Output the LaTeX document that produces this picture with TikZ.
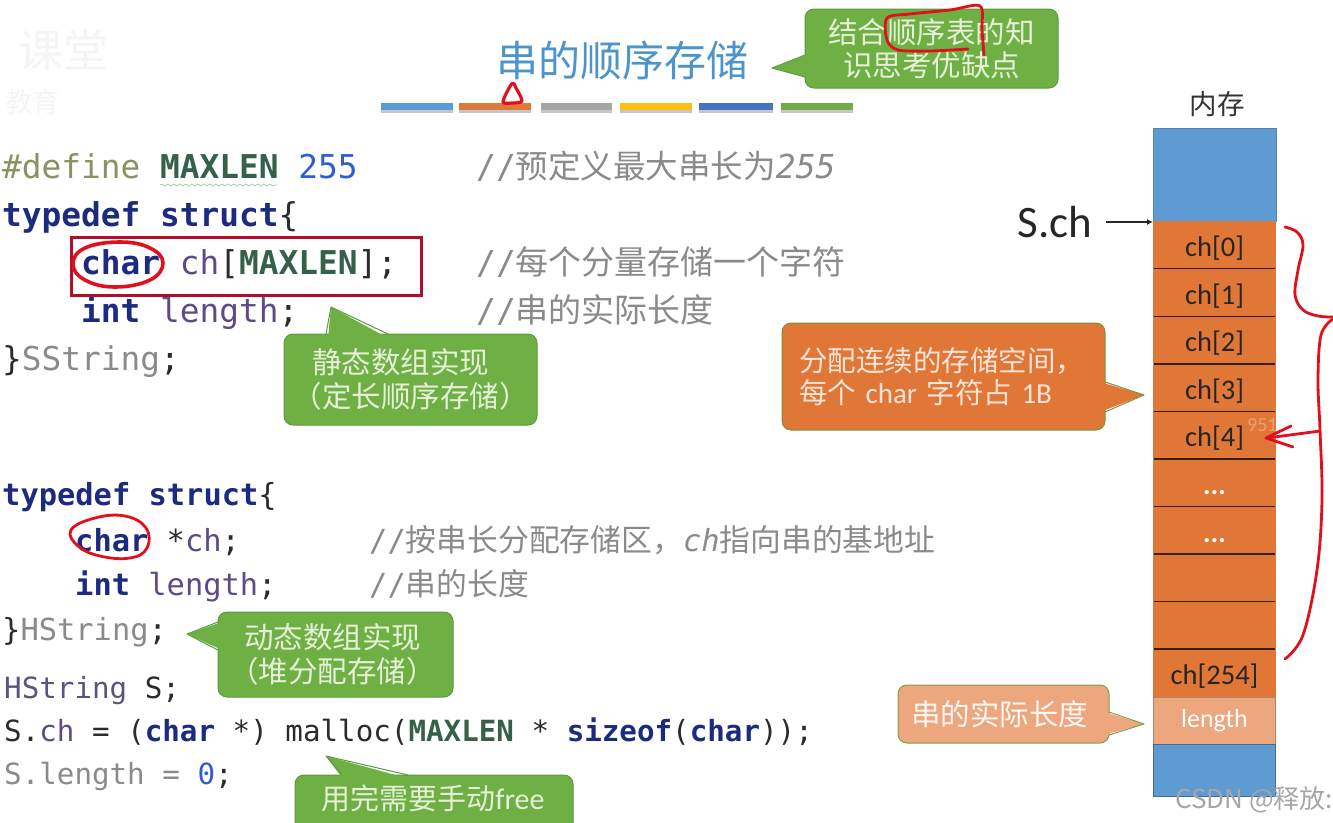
\documentclass[tikz,border=0pt]{standalone}
\usepackage{fontspec}
\setmainfont{Carlito}
\setmonofont{DejaVu Sans Mono}
\newfontfamily\cjk{Noto Sans CJK SC}
\usetikzlibrary{arrows.meta,decorations.pathmorphing}
\definecolor{keyblue}{HTML}{1C2A80}
\definecolor{macgreen}{HTML}{35604A}
\definecolor{numblue}{HTML}{2F5BD6}
\definecolor{fieldpurple}{HTML}{5E4A86}
\definecolor{fadegray}{HTML}{8A8A8A}
\definecolor{dirolive}{HTML}{8B9160}
\definecolor{codeblack}{HTML}{2B2B2B}
\definecolor{typeslate}{HTML}{55557F}
\definecolor{memblue}{HTML}{5F9BD3}
\definecolor{memorange}{HTML}{E07737}
\definecolor{memlight}{HTML}{EDA77F}
\definecolor{callgreen}{HTML}{6FB044}
\definecolor{callborder}{HTML}{5C9A3E}
\definecolor{calltext}{HTML}{E6F0D8}
\definecolor{penred}{HTML}{E0101E}
\definecolor{boxred}{HTML}{AD0F2D}
\definecolor{titleblue}{HTML}{4E94CC}
\definecolor{barblue}{HTML}{5B9BD5}
\definecolor{barorange}{HTML}{DD7A3C}
\definecolor{bargray}{HTML}{A5A5A5}
\definecolor{baryellow}{HTML}{FBBF16}
\definecolor{bardark}{HTML}{4472C4}
\definecolor{bargreen}{HTML}{70AD47}
\newcommand{\ckey}[1]{{\color{keyblue}\bfseries #1}}
\newcommand{\cmac}[1]{{\color{macgreen}\bfseries #1}}
\newcommand{\cnum}[1]{{\color{numblue}#1}}
\newcommand{\cfld}[1]{{\color{fieldpurple}#1}}
\newcommand{\cfad}[1]{{\color{fadegray}#1}}
\newcommand{\codesize}[1]{\fontsize{#1}{#1}\selectfont\ttfamily}
\newcommand{\celldots}{\textcolor{white}{\bfseries ...}}
\tikzset{
  codeline/.style={anchor=base west, inner sep=0pt, text=codeblack},
  noteline/.style={anchor=base west, inner sep=0pt, text=fadegray},
  callbox/.style={draw=callborder, line width=1pt, fill=callgreen, text=calltext, rounded corners=9pt,
    align=center, inner sep=0pt},
  calltail/.style={fill=callgreen},
  calledge/.style={draw=callborder, line width=1pt, line join=round},
  cellbox/.style={fill=memorange, minimum width=123pt, minimum height=47.55pt, inner sep=0pt,
    font=\fontsize{28.5}{28.5}\selectfont, text=black!85},
  cellline/.style={draw=black!75!memorange, line width=1.4pt, shorten >=1.5pt, shorten <=1.5pt},
  pen/.style={draw=penred, line width=2.8pt, line cap=round, line join=round}
}

\begin{document}
\begin{tikzpicture}[x=1pt, y=-1pt, >={Latex[length=6pt,width=6pt]}]
  \useasboundingbox (0,0) rectangle (1333,822);
  % faint marks in the corner
  \node[anchor=west, text=black!4, inner sep=0pt, font=\cjk\fontsize{45}{45}\selectfont] (logotop) at (18,50) {课堂};
  \node[anchor=west, text=black!4, inner sep=0pt, font=\cjk\fontsize{27}{27}\selectfont] (logosub) at (5,102) {教育};
  % title and its bars
  \node[text=titleblue, font=\cjk\fontsize{42}{42}\selectfont, inner sep=0pt] (title) at (622,61) {串的顺序存储};
  \foreach \xa/\xb/\col in {381/453/barblue, 459/531/barorange, 541/612/bargray, 620/692/baryellow, 699/773/bardark, 781/853/bargreen}{
    \fill[black!22] (\xa,106) rectangle (\xb,113);
    \fill[\col] (\xa,103) rectangle (\xb,110);
  }
  \draw[pen, line width=3.2pt] plot[smooth cycle, tension=0.5] coordinates {(503,102)(509,88)(513,83)(516,88)(522,101)(512,103)};
  % first struct
  \node[codeline, font=\codesize{32.8}] (defline) at (2,178) {{\color{dirolive}\#define} \cmac{MAXLEN} \cnum{255}};
  \node[codeline, font=\codesize{32.8}] (tdefa) at (2,226) {\ckey{typedef struct}\{};
  \node[codeline, font=\codesize{32.8}] (chara) at (81,274) {\ckey{char} \cfld{ch}[\cmac{MAXLEN}];};
  \node[codeline, font=\codesize{32.8}] (inta) at (81,322) {\ckey{int} \cfld{length};};
  \node[codeline, font=\codesize{32.8}] (enda) at (2,370) {\}\cfad{SString};};
  \node[noteline, font=\codesize{33}] (notea) at (476,178) {//{\cjk\fontsize{32.5}{33}\selectfont 预定义最大串长为}{\itshape 255}};
  \node[noteline, font=\codesize{33}] (noteb) at (476,274) {//{\cjk\fontsize{33}{33}\selectfont 每个分量存储一个字符}};
  \node[noteline, font=\codesize{33}] (notec) at (476,322) {//{\cjk\fontsize{33}{33}\selectfont 串的实际长度}};
  \draw[green!50!black!40, line width=.8pt, decorate, decoration={snake, amplitude=1pt, segment length=6pt}] (160,185) -- (277,185);
  \draw[boxred, line width=3pt] (71,237) rectangle (421,295);
  \draw[pen, line width=3.6pt] plot[smooth cycle, tension=0.7] coordinates {(120,242)(150,248)(163,263)(150,280)(115,287)(85,280)(73,264)(85,248)};
  % second struct
  \node[codeline, font=\codesize{30.4}] (tdefb) at (2,505) {\ckey{typedef struct}\{};
  \node[codeline, font=\codesize{30.4}] (charb) at (75,551) {\ckey{char} *\cfld{ch};};
  \node[codeline, font=\codesize{30.4}] (intb) at (75,595) {\ckey{int} \cfld{length};};
  \node[codeline, font=\codesize{30.4}] (endb) at (2,640) {\}\cfad{HString};};
  \node[noteline, font=\codesize{30.4}] (noted) at (369,551) {//{\cjk\fontsize{30.8}{30}\selectfont 按串长分配存储区，}{\itshape ch}{\cjk\fontsize{30.8}{30}\selectfont 指向串的基地址}};
  \node[noteline, font=\codesize{30.4}] (notee) at (369,595) {//{\cjk\fontsize{30.8}{30}\selectfont 串的长度}};
  \draw[pen] plot[smooth cycle, tension=0.7] coordinates {(95,518)(125,516)(146,528)(147,548)(130,558)(100,556)(78,546)(71,530)};
  % use of the struct
  \node[codeline, font=\codesize{29.2}] (useb) at (4,698) {{\color{typeslate}HString} S;};
  \node[codeline, font=\codesize{29.2}] (usec) at (4,741) {S.\cfld{ch} = (\ckey{char} *) malloc(\cmac{MAXLEN} * \ckey{sizeof}(\ckey{char}));};
  \node[codeline, font=\codesize{29.2}] (used) at (4,784) {\cfad{S.length = }\cnum{0};};
  % memory column
  \node[font=\cjk\fontsize{27.5}{27.5}\selectfont, text=black!80, inner sep=0pt] (memlabel) at (1217,104) {内存};
  \node[fill=memblue, draw=memblue!85!black, line width=.6pt, minimum width=123pt, minimum height=93pt, inner sep=0pt] (memtop) at (1214.5,174.5) {};
  \foreach \i/\lab in {0/ch[0], 1/ch[1], 2/ch[2], 3/ch[3], 4/ch[4], 5/\celldots, 6/\celldots, 7/, 8/, 9/ch[254]}{
    \node[cellbox, text height=28pt, text depth=4pt] (cell\i) at (1214.5,{221+47.55*(\i+.5)}) {\lab};
  }
  \foreach \i in {0,...,8}{
    \draw[cellline] (cell\i.south west) -- (cell\i.south east);
  }
  \node[fill=memlight, draw=memorange!70!memblue, line width=.8pt, minimum width=122pt, minimum height=47pt, inner sep=0pt, text=white, font=\fontsize{26}{26}\selectfont] (memlen) at (1214.5,720.5) {length};
  \node[fill=memblue, draw=memblue!70!black, line width=1pt, minimum width=122pt, minimum height=52pt, inner sep=0pt] (membot) at (1214.5,770) {};
  \node[font=\fontsize{45}{45}\selectfont, text=black!85, inner xsep=13pt, inner ysep=0pt] (sch) at (1055,222) {S.ch};
  \coordinate (schtip) at (1153,222);
  \draw[->, line width=1.6pt, black!85] (sch.east) -- (schtip);
  % green note at the title
  \node[callbox, minimum width=253pt, minimum height=79pt, font=\cjk\fontsize{29.5}{33}\selectfont] (notetitle) at (931.5,48.5) {结合顺序表的知\\识思考优缺点};
  \fill[calltail] (809,54) -- (772,68) -- (809,78) -- cycle;
  \draw[calledge] (805,55) -- (772,68) -- (805,77);
  \draw[pen] plot[smooth, tension=0.5] coordinates {(968,49)(930,51)(898,50)(887,40)(887,18)(910,14)(950,10)(980,6)(982,30)(984,55)};
  % green note at the first struct
  \node[callbox, minimum width=253pt, minimum height=91pt, font=\cjk\fontsize{29.5}{34}\selectfont] (notestat) at (410.5,379.5) {静态数组实现\hspace*{20pt}\\（定长顺序存储）};
  \fill[calltail] (328,338) -- (331,307) -- (388,338) -- cycle;
  \draw[calledge] (326,334) -- (331,307) -- (388,334);
  % orange note
  \node[callbox, fill=memorange, draw=callborder!75!memorange, minimum width=323pt, minimum height=107pt, align=left, font=\cjk\fontsize{28.5}{31.5}\selectfont, text=memlight!30!white, text width=289pt] (noteorg) at (943.5,376.5) {分配连续的存储空间，\\每个 {\fontspec{Carlito}\fontsize{29}{31.5}\selectfont char} 字符占 {\fontspec{Carlito}\fontsize{29}{31.5}\selectfont 1B}};
  \fill[memorange] (1100,382) -- (1144,395) -- (1100,412) -- cycle;
  \draw[calledge, draw=callborder!75!memorange] (1105,382) -- (1144,395) -- (1105,412);
  % light orange note
  \node[callbox, fill=memlight, draw=callborder!75!memlight, minimum width=211pt, minimum height=58pt, font=\cjk\fontsize{29.5}{34}\selectfont, text=white!90!memlight] (notelen) at (1003.5,714) {串的实际长度\hspace*{8pt}};
  \fill[memlight] (1104,712) -- (1144,724) -- (1104,735) -- cycle;
  \draw[calledge, draw=callborder!75!memlight] (1109,712) -- (1144,724) -- (1109,735);
  % green note at the second struct
  \node[callbox, minimum width=235pt, minimum height=85pt, font=\cjk\fontsize{29.5}{34.5}\selectfont] (notedyn) at (335.5,654.5) {动态数组实现\hspace*{6pt}\\（堆分配存储）\hspace*{6pt}};
  \fill[calltail] (222,622) -- (187,634) -- (222,650) -- cycle;
  \draw[calledge] (218,622) -- (187,634) -- (218,650);
  % green note at the bottom
  \node[callbox, minimum width=278pt, minimum height=60pt] (notefree) at (434,805) {};
  \node[text=calltext, inner sep=0pt, font=\cjk\fontsize{29}{34}\selectfont] (notefreetxt) at (433,798) {用完需要手动{\fontspec{Carlito}\fontsize{30}{34}\selectfont free}};
  \fill[calltail] (343,779) -- (326,756) -- (410,779) -- cycle;
  \draw[calledge] (342,775) -- (326,756) -- (408,775);
  % red pen on the right
  \draw[pen] plot[smooth, tension=0.6] coordinates {(1285,227)(1297,232)(1303,245)(1298,270)(1295,295)(1303,310)(1318,316)(1333,317)};
  \draw[pen] plot[smooth, tension=0.6] coordinates {(1333,319)(1321,335)(1318,380)(1320,430)(1322,500)(1317,570)(1303,635)(1285,659)};
  \draw[pen] (1320,431) -- (1267,438);
  \draw[pen] (1291,426) -- (1266,438) -- (1293,447);
  % watermarks
  \node[anchor=west, text=white!65!black, inner sep=0pt, font=\fontsize{26}{26}\fontspec{Noto Sans CJK SC}] (mark) at (1175,800) {CSDN @释放:};
  \node[anchor=west, text=white, opacity=.3, inner sep=0pt, font=\fontsize{20}{20}\selectfont] (markb) at (1247,425) {951};
\end{tikzpicture}
\end{document}
